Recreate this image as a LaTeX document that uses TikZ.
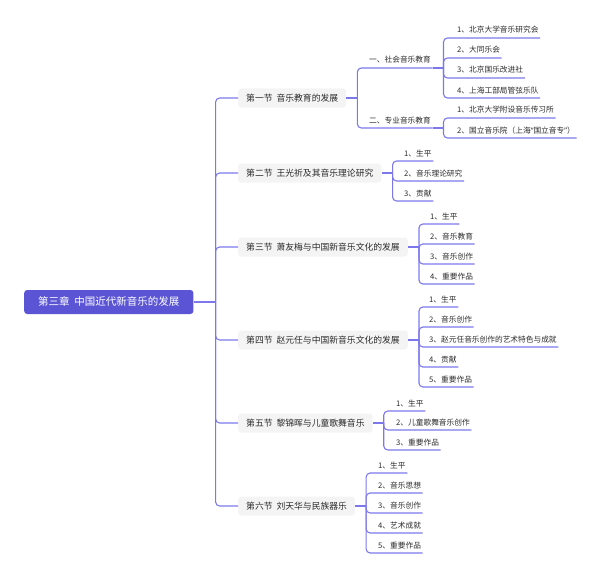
\documentclass[tikz,border=0pt]{standalone}
\usepackage{fontspec}
\newfontfamily\cjk{Noto Sans CJK SC}
\newfontfamily\latinq{Noto Sans}
\definecolor{rootc}{HTML}{5B55D6}
\definecolor{linec}{HTML}{7C78EC}
\definecolor{secc}{HTML}{F4F4F4}
\definecolor{txtc}{HTML}{2A2A2A}
\tikzset{
  rootbox/.style={fill=rootc, text=white, rounded corners=3pt, anchor=west,
    font=\cjk\fontsize{10.5}{12}\selectfont, minimum height=24pt,
    inner xsep=14pt, inner ysep=0pt, text height=8.5pt, text depth=1.8pt},
  secbox/.style={fill=secc, text=txtc, rounded corners=3pt, anchor=west,
    font=\cjk\fontsize{8.8}{10}\selectfont, minimum height=19pt,
    inner xsep=8pt, inner ysep=0pt, text height=7.6pt, text depth=1.5pt},
  leaf/.style={text=txtc, anchor=south west,
    font=\cjk\fontsize{7.7}{9}\selectfont,
    inner xsep=1.5pt, inner ysep=0pt, text height=6.5pt, text depth=4.8pt},
  link/.style={draw=linec, line width=1.1pt, rounded corners=4pt}
}
\newcommand{\gap}{\hspace{0.45em}}

\begin{document}
\begin{tikzpicture}[x=1pt,y=-1pt]
\useasboundingbox (0,0) rectangle (600,578);

\node[rootbox] (root) at (24,302) {第三章\gap 中国近代新音乐的发展};

\node[secbox] (s1) at (238,98) {第一节\gap 音乐教育的发展};
\node[secbox] (s2) at (238,173) {第二节\gap 王光祈及其音乐理论研究};
\node[secbox] (s3) at (238,247) {第三节\gap 萧友梅与中国新音乐文化的发展};
\node[secbox] (s4) at (238,340) {第四节\gap 赵元任与中国新音乐文化的发展};
\node[secbox] (s5) at (238,423) {第五节\gap 黎锦晖与儿童歌舞音乐};
\node[secbox] (s6) at (238,506) {第六节\gap 刘天华与民族器乐};

\node[leaf] (a1) at (367.5,68) {一、社会音乐教育};
\node[leaf] (a2) at (367.5,128) {二、专业音乐教育};
\node[leaf] (a11) at (455.5,38) {1、北京大学音乐研究会};
\node[leaf] (a12) at (455.5,58) {2、大同乐会};
\node[leaf] (a13) at (455.5,78) {3、北京国乐改进社};
\node[leaf] (a14) at (455.5,98) {4、上海工部局管弦乐队};
\node[leaf] (a21) at (455.5,118) {1、北京大学附设音乐传习所};
\node[leaf] (a22) at (455.5,138) {2、国立音乐院（上海{\latinq “}国立音专{\latinq ”}）};

\node[leaf] (b1) at (402.5,161) {1、生平};
\node[leaf] (b2) at (402.5,181) {2、音乐理论研究};
\node[leaf] (b3) at (402.5,201) {3、贡献};

\node[leaf] (c1) at (428.5,224) {1、生平};
\node[leaf] (c2) at (428.5,244) {2、音乐教育};
\node[leaf] (c3) at (428.5,264) {3、音乐创作};
\node[leaf] (c4) at (428.5,284) {4、重要作品};

\node[leaf] (d1) at (427.5,307) {1、生平};
\node[leaf] (d2) at (427.5,327) {2、音乐创作};
\node[leaf] (d3) at (427.5,347) {3、赵元任音乐创作的艺术特色与成就};
\node[leaf] (d4) at (427.5,367) {4、贡献};
\node[leaf] (d5) at (427.5,387) {5、重要作品};

\node[leaf] (e1) at (394.5,411) {1、生平};
\node[leaf] (e2) at (394.5,430) {2、儿童歌舞音乐创作};
\node[leaf] (e3) at (394.5,450) {3、重要作品};

\node[leaf] (f1) at (376.5,473) {1、生平};
\node[leaf] (f2) at (376.5,493) {2、音乐思想};
\node[leaf] (f3) at (376.5,513) {3、音乐创作};
\node[leaf] (f4) at (376.5,533) {4、艺术成就};
\node[leaf] (f5) at (376.5,553) {5、重要作品};

% trunk
\draw[link] (root.east) -- ++(22,0) coordinate (j0);
\draw[link] (j0) |- (s1.west);
\draw[link] (j0) |- (s2.west);
\draw[link] (j0) |- (s3.west);
\draw[link] (j0) |- (s4.west);
\draw[link] (j0) |- (s5.west);
\draw[link] (j0) |- (s6.west);

% section 1
\draw[link] (s1.east) -- ++(11,0) coordinate (j1);
\draw[link] (j1) |- (a1.south east);
\draw[link] (j1) |- (a2.south east);
\draw[link] (a1.south east) -- ++(11,0) coordinate (j11);
\draw[link] (j11) |- (a11.south east);
\draw[link] (j11) |- (a12.south east);
\draw[link] (j11) |- (a13.south east);
\draw[link] (j11) |- (a14.south east);
\draw[link] (a2.south east) -- ++(11,0) coordinate (j12);
\draw[link] (j12) |- (a21.south east);
\draw[link] (j12) |- (a22.south east);

% section 2
\draw[link] (s2.east) -- ++(11,0) coordinate (j2);
\draw[link] (j2) |- (b1.south east);
\draw[link] (j2) |- (b2.south east);
\draw[link] (j2) |- (b3.south east);

% section 3
\draw[link] (s3.east) -- ++(11,0) coordinate (j3);
\draw[link] (j3) |- (c1.south east);
\draw[link] (j3) |- (c2.south east);
\draw[link] (j3) |- (c3.south east);
\draw[link] (j3) |- (c4.south east);

% section 4
\draw[link] (s4.east) -- ++(11,0) coordinate (j4);
\draw[link] (j4) |- (d1.south east);
\draw[link] (j4) |- (d2.south east);
\draw[link] (j4) |- (d3.south east);
\draw[link] (j4) |- (d4.south east);
\draw[link] (j4) |- (d5.south east);

% section 5
\draw[link] (s5.east) -- ++(11,0) coordinate (j5);
\draw[link] (j5) |- (e1.south east);
\draw[link] (j5) |- (e2.south east);
\draw[link] (j5) |- (e3.south east);

% section 6
\draw[link] (s6.east) -- ++(11,0) coordinate (j6);
\draw[link] (j6) |- (f1.south east);
\draw[link] (j6) |- (f2.south east);
\draw[link] (j6) |- (f3.south east);
\draw[link] (j6) |- (f4.south east);
\draw[link] (j6) |- (f5.south east);
\end{tikzpicture}
\end{document}
